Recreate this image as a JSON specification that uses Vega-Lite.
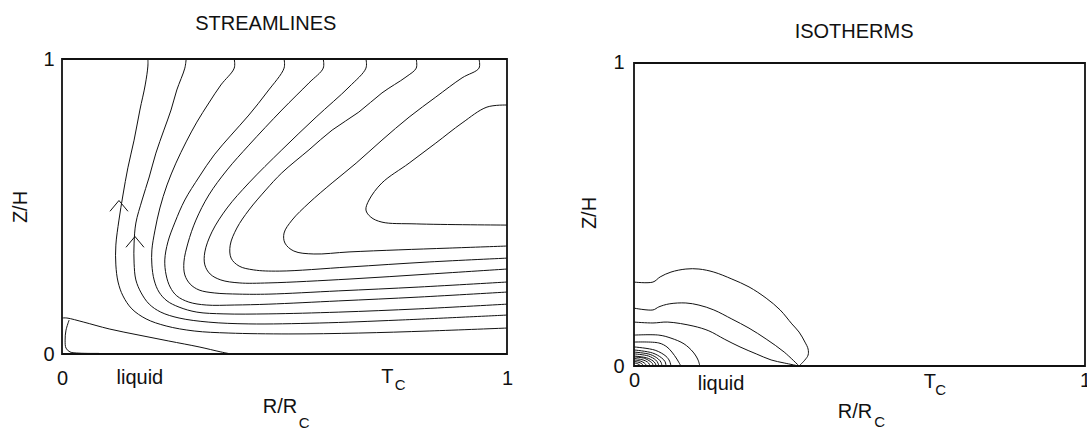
{
  "$schema": "https://vega.github.io/schema/vega-lite/v6.json",
  "background": "white",
  "padding": {"left": 10, "top": 14, "right": 0, "bottom": 0},
  "bounds": "flush",
  "spacing": 127,
  "config": {
    "font": "Liberation Sans",
    "view": {"stroke": null},
    "axis": {"domain": false, "ticks": false, "grid": false, "labelFontSize": 20, "labelColor": "#111", "titleFontSize": 20, "titleFontWeight": "normal", "titleColor": "#111", "labelFlush": false}
  },
  "datasets": {
    "frame": [{"x": 0, "x2": 1, "y": 0, "y2": 1}],
    "stream": [
      {"c": "A", "x": 0.193, "y": 1.0}, {"c": "A", "x": 0.193, "y": 0.976}, {"c": "A", "x": 0.187, "y": 0.912}, {"c": "A", "x": 0.175, "y": 0.827}, {"c": "A", "x": 0.162, "y": 0.725}, {"c": "A", "x": 0.148, "y": 0.631}, {"c": "A", "x": 0.137, "y": 0.539}, {"c": "A", "x": 0.128, "y": 0.454}, {"c": "A", "x": 0.121, "y": 0.369}, {"c": "A", "x": 0.121, "y": 0.302}, {"c": "A", "x": 0.126, "y": 0.244}, {"c": "A", "x": 0.137, "y": 0.197}, {"c": "A", "x": 0.157, "y": 0.153}, {"c": "A", "x": 0.189, "y": 0.119}, {"c": "A", "x": 0.234, "y": 0.095}, {"c": "A", "x": 0.297, "y": 0.078}, {"c": "A", "x": 0.375, "y": 0.071}, {"c": "A", "x": 0.510, "y": 0.068}, {"c": "A", "x": 0.667, "y": 0.071}, {"c": "A", "x": 0.825, "y": 0.078}, {"c": "A", "x": 1.0, "y": 0.088},
      {"c": "B", "x": 0.279, "y": 1.0}, {"c": "B", "x": 0.276, "y": 0.969}, {"c": "B", "x": 0.258, "y": 0.895}, {"c": "B", "x": 0.245, "y": 0.827}, {"c": "B", "x": 0.229, "y": 0.759}, {"c": "B", "x": 0.211, "y": 0.681}, {"c": "B", "x": 0.196, "y": 0.600}, {"c": "B", "x": 0.180, "y": 0.522}, {"c": "B", "x": 0.166, "y": 0.444}, {"c": "B", "x": 0.162, "y": 0.376}, {"c": "B", "x": 0.162, "y": 0.308}, {"c": "B", "x": 0.166, "y": 0.251}, {"c": "B", "x": 0.178, "y": 0.207}, {"c": "B", "x": 0.196, "y": 0.169}, {"c": "B", "x": 0.222, "y": 0.142}, {"c": "B", "x": 0.263, "y": 0.122}, {"c": "B", "x": 0.330, "y": 0.108}, {"c": "B", "x": 0.420, "y": 0.102}, {"c": "B", "x": 0.578, "y": 0.105}, {"c": "B", "x": 0.757, "y": 0.115}, {"c": "B", "x": 1.0, "y": 0.132},
      {"c": "C", "x": 0.387, "y": 1.0}, {"c": "C", "x": 0.387, "y": 0.969}, {"c": "C", "x": 0.357, "y": 0.912}, {"c": "C", "x": 0.330, "y": 0.851}, {"c": "C", "x": 0.303, "y": 0.786}, {"c": "C", "x": 0.279, "y": 0.719}, {"c": "C", "x": 0.256, "y": 0.647}, {"c": "C", "x": 0.236, "y": 0.573}, {"c": "C", "x": 0.220, "y": 0.495}, {"c": "C", "x": 0.209, "y": 0.420}, {"c": "C", "x": 0.202, "y": 0.353}, {"c": "C", "x": 0.202, "y": 0.302}, {"c": "C", "x": 0.207, "y": 0.251}, {"c": "C", "x": 0.218, "y": 0.210}, {"c": "C", "x": 0.236, "y": 0.180}, {"c": "C", "x": 0.263, "y": 0.159}, {"c": "C", "x": 0.303, "y": 0.142}, {"c": "C", "x": 0.364, "y": 0.136}, {"c": "C", "x": 0.465, "y": 0.136}, {"c": "C", "x": 0.622, "y": 0.142}, {"c": "C", "x": 0.802, "y": 0.153}, {"c": "C", "x": 1.0, "y": 0.169},
      {"c": "D", "x": 0.499, "y": 1.0}, {"c": "D", "x": 0.499, "y": 0.969}, {"c": "D", "x": 0.461, "y": 0.888}, {"c": "D", "x": 0.420, "y": 0.810}, {"c": "D", "x": 0.380, "y": 0.742}, {"c": "D", "x": 0.342, "y": 0.675}, {"c": "D", "x": 0.308, "y": 0.600}, {"c": "D", "x": 0.276, "y": 0.522}, {"c": "D", "x": 0.254, "y": 0.447}, {"c": "D", "x": 0.238, "y": 0.380}, {"c": "D", "x": 0.231, "y": 0.319}, {"c": "D", "x": 0.234, "y": 0.268}, {"c": "D", "x": 0.243, "y": 0.227}, {"c": "D", "x": 0.258, "y": 0.197}, {"c": "D", "x": 0.285, "y": 0.176}, {"c": "D", "x": 0.324, "y": 0.166}, {"c": "D", "x": 0.387, "y": 0.166}, {"c": "D", "x": 0.465, "y": 0.169}, {"c": "D", "x": 0.622, "y": 0.180}, {"c": "D", "x": 0.802, "y": 0.193}, {"c": "D", "x": 1.0, "y": 0.210},
      {"c": "E", "x": 0.587, "y": 1.0}, {"c": "E", "x": 0.587, "y": 0.969}, {"c": "E", "x": 0.555, "y": 0.919}, {"c": "E", "x": 0.494, "y": 0.827}, {"c": "E", "x": 0.420, "y": 0.708}, {"c": "E", "x": 0.371, "y": 0.624}, {"c": "E", "x": 0.330, "y": 0.539}, {"c": "E", "x": 0.301, "y": 0.454}, {"c": "E", "x": 0.283, "y": 0.376}, {"c": "E", "x": 0.274, "y": 0.312}, {"c": "E", "x": 0.276, "y": 0.268}, {"c": "E", "x": 0.288, "y": 0.237}, {"c": "E", "x": 0.308, "y": 0.217}, {"c": "E", "x": 0.342, "y": 0.207}, {"c": "E", "x": 0.398, "y": 0.203}, {"c": "E", "x": 0.465, "y": 0.203}, {"c": "E", "x": 0.622, "y": 0.214}, {"c": "E", "x": 0.802, "y": 0.227}, {"c": "E", "x": 1.0, "y": 0.244},
      {"c": "F", "x": 0.683, "y": 1.0}, {"c": "F", "x": 0.683, "y": 0.969}, {"c": "F", "x": 0.645, "y": 0.905}, {"c": "F", "x": 0.571, "y": 0.803}, {"c": "F", "x": 0.494, "y": 0.692}, {"c": "F", "x": 0.420, "y": 0.580}, {"c": "F", "x": 0.371, "y": 0.495}, {"c": "F", "x": 0.337, "y": 0.414}, {"c": "F", "x": 0.321, "y": 0.346}, {"c": "F", "x": 0.321, "y": 0.302}, {"c": "F", "x": 0.333, "y": 0.271}, {"c": "F", "x": 0.357, "y": 0.251}, {"c": "F", "x": 0.398, "y": 0.241}, {"c": "F", "x": 0.465, "y": 0.241}, {"c": "F", "x": 0.645, "y": 0.254}, {"c": "F", "x": 0.825, "y": 0.271}, {"c": "F", "x": 1.0, "y": 0.288},
      {"c": "G", "x": 0.796, "y": 1.0}, {"c": "G", "x": 0.796, "y": 0.969}, {"c": "G", "x": 0.773, "y": 0.939}, {"c": "G", "x": 0.719, "y": 0.885}, {"c": "G", "x": 0.667, "y": 0.820}, {"c": "G", "x": 0.607, "y": 0.759}, {"c": "G", "x": 0.555, "y": 0.692}, {"c": "G", "x": 0.494, "y": 0.614}, {"c": "G", "x": 0.458, "y": 0.556}, {"c": "G", "x": 0.420, "y": 0.488}, {"c": "G", "x": 0.393, "y": 0.427}, {"c": "G", "x": 0.378, "y": 0.369}, {"c": "G", "x": 0.380, "y": 0.325}, {"c": "G", "x": 0.398, "y": 0.298}, {"c": "G", "x": 0.431, "y": 0.285}, {"c": "G", "x": 0.488, "y": 0.281}, {"c": "G", "x": 0.645, "y": 0.295}, {"c": "G", "x": 0.825, "y": 0.312}, {"c": "G", "x": 1.0, "y": 0.325},
      {"c": "H", "x": 0.937, "y": 1.0}, {"c": "H", "x": 0.937, "y": 0.969}, {"c": "H", "x": 0.899, "y": 0.936}, {"c": "H", "x": 0.840, "y": 0.871}, {"c": "H", "x": 0.780, "y": 0.803}, {"c": "H", "x": 0.719, "y": 0.725}, {"c": "H", "x": 0.661, "y": 0.647}, {"c": "H", "x": 0.607, "y": 0.580}, {"c": "H", "x": 0.555, "y": 0.512}, {"c": "H", "x": 0.517, "y": 0.454}, {"c": "H", "x": 0.499, "y": 0.410}, {"c": "H", "x": 0.501, "y": 0.376}, {"c": "H", "x": 0.521, "y": 0.349}, {"c": "H", "x": 0.566, "y": 0.339}, {"c": "H", "x": 0.645, "y": 0.346}, {"c": "H", "x": 0.757, "y": 0.353}, {"c": "H", "x": 0.870, "y": 0.359}, {"c": "H", "x": 1.0, "y": 0.366},
      {"c": "I", "x": 1.0, "y": 0.844}, {"c": "I", "x": 0.955, "y": 0.837}, {"c": "I", "x": 0.899, "y": 0.783}, {"c": "I", "x": 0.840, "y": 0.715}, {"c": "I", "x": 0.780, "y": 0.647}, {"c": "I", "x": 0.719, "y": 0.580}, {"c": "I", "x": 0.690, "y": 0.522}, {"c": "I", "x": 0.683, "y": 0.488}, {"c": "I", "x": 0.694, "y": 0.464}, {"c": "I", "x": 0.719, "y": 0.447}, {"c": "I", "x": 0.796, "y": 0.441}, {"c": "I", "x": 1.0, "y": 0.437},
      {"c": "S1", "x": 0, "y": 0.122}, {"c": "S1", "x": 0.011, "y": 0.122}, {"c": "S1", "x": 0.049, "y": 0.108}, {"c": "S1", "x": 0.106, "y": 0.085}, {"c": "S1", "x": 0.173, "y": 0.064}, {"c": "S1", "x": 0.240, "y": 0.044}, {"c": "S1", "x": 0.308, "y": 0.024}, {"c": "S1", "x": 0.357, "y": 0.007}, {"c": "S1", "x": 0.380, "y": 0},
      {"c": "S2", "x": 0.016, "y": 0.115}, {"c": "S2", "x": 0.009, "y": 0.081}, {"c": "S2", "x": 0.007, "y": 0.047}, {"c": "S2", "x": 0.009, "y": 0.020}, {"c": "S2", "x": 0.018, "y": 0.007}, {"c": "S2", "x": 0.038, "y": 0.003}, {"c": "S2", "x": 0.083, "y": 0.002}
    ],
    "arrows": [{"x": 0.128, "y": 0.502}, {"x": 0.164, "y": 0.380}],
    "iso": [
      {"c": "T1", "x": 0, "y": 0.277}, {"c": "T1", "x": 0.042, "y": 0.277}, {"c": "T1", "x": 0.058, "y": 0.294}, {"c": "T1", "x": 0.082, "y": 0.310}, {"c": "T1", "x": 0.115, "y": 0.320}, {"c": "T1", "x": 0.144, "y": 0.320}, {"c": "T1", "x": 0.177, "y": 0.310}, {"c": "T1", "x": 0.217, "y": 0.287}, {"c": "T1", "x": 0.255, "y": 0.261}, {"c": "T1", "x": 0.293, "y": 0.224}, {"c": "T1", "x": 0.324, "y": 0.185}, {"c": "T1", "x": 0.350, "y": 0.139}, {"c": "T1", "x": 0.366, "y": 0.112}, {"c": "T1", "x": 0.379, "y": 0.079}, {"c": "T1", "x": 0.386, "y": 0.056}, {"c": "T1", "x": 0.386, "y": 0.036}, {"c": "T1", "x": 0.379, "y": 0.020}, {"c": "T1", "x": 0.366, "y": 0},
      {"c": "T2", "x": 0, "y": 0.191}, {"c": "T2", "x": 0.042, "y": 0.185}, {"c": "T2", "x": 0.055, "y": 0.195}, {"c": "T2", "x": 0.078, "y": 0.205}, {"c": "T2", "x": 0.115, "y": 0.208}, {"c": "T2", "x": 0.144, "y": 0.201}, {"c": "T2", "x": 0.177, "y": 0.185}, {"c": "T2", "x": 0.217, "y": 0.155}, {"c": "T2", "x": 0.255, "y": 0.125}, {"c": "T2", "x": 0.293, "y": 0.089}, {"c": "T2", "x": 0.333, "y": 0.046}, {"c": "T2", "x": 0.366, "y": 0},
      {"c": "T3", "x": 0, "y": 0.145}, {"c": "T3", "x": 0.042, "y": 0.142}, {"c": "T3", "x": 0.075, "y": 0.145}, {"c": "T3", "x": 0.131, "y": 0.132}, {"c": "T3", "x": 0.166, "y": 0.116}, {"c": "T3", "x": 0.200, "y": 0.089}, {"c": "T3", "x": 0.235, "y": 0.063}, {"c": "T3", "x": 0.271, "y": 0.040}, {"c": "T3", "x": 0.304, "y": 0.020}, {"c": "T3", "x": 0.333, "y": 0.010}, {"c": "T3", "x": 0.366, "y": 0},
      {"c": "T4", "x": 0, "y": 0.102}, {"c": "T4", "x": 0.055, "y": 0.102}, {"c": "T4", "x": 0.082, "y": 0.092}, {"c": "T4", "x": 0.111, "y": 0.073}, {"c": "T4", "x": 0.131, "y": 0.046}, {"c": "T4", "x": 0.142, "y": 0.020}, {"c": "T4", "x": 0.146, "y": 0},
      {"c": "T5", "x": 0, "y": 0.079}, {"c": "T5", "x": 0.055, "y": 0.076}, {"c": "T5", "x": 0.073, "y": 0.063}, {"c": "T5", "x": 0.084, "y": 0.046}, {"c": "T5", "x": 0.095, "y": 0.023}, {"c": "T5", "x": 0.104, "y": 0},
      {"c": "T6", "x": 0, "y": 0.063}, {"c": "T6", "x": 0.047, "y": 0.052}, {"c": "T6", "x": 0.071, "y": 0.032}, {"c": "T6", "x": 0.079, "y": 0.016}, {"c": "T6", "x": 0.082, "y": 0},
      {"c": "T7", "x": 0, "y": 0.053}, {"c": "T7", "x": 0.041, "y": 0.043}, {"c": "T7", "x": 0.061, "y": 0.027}, {"c": "T7", "x": 0.069, "y": 0.014}, {"c": "T7", "x": 0.071, "y": 0},
      {"c": "T8", "x": 0, "y": 0.046}, {"c": "T8", "x": 0.036, "y": 0.038}, {"c": "T8", "x": 0.054, "y": 0.023}, {"c": "T8", "x": 0.060, "y": 0.012}, {"c": "T8", "x": 0.062, "y": 0},
      {"c": "T9", "x": 0, "y": 0.040}, {"c": "T9", "x": 0.032, "y": 0.033}, {"c": "T9", "x": 0.048, "y": 0.020}, {"c": "T9", "x": 0.053, "y": 0.010}, {"c": "T9", "x": 0.055, "y": 0},
      {"c": "T10", "x": 0, "y": 0.033}, {"c": "T10", "x": 0.028, "y": 0.027}, {"c": "T10", "x": 0.042, "y": 0.017}, {"c": "T10", "x": 0.047, "y": 0.009}, {"c": "T10", "x": 0.049, "y": 0},
      {"c": "T11", "x": 0, "y": 0.030}, {"c": "T11", "x": 0.024, "y": 0.025}, {"c": "T11", "x": 0.036, "y": 0.015}, {"c": "T11", "x": 0.041, "y": 0.008}, {"c": "T11", "x": 0.042, "y": 0},
      {"c": "T12", "x": 0, "y": 0.025}, {"c": "T12", "x": 0.020, "y": 0.020}, {"c": "T12", "x": 0.030, "y": 0.013}, {"c": "T12", "x": 0.034, "y": 0.006}, {"c": "T12", "x": 0.035, "y": 0},
      {"c": "T13", "x": 0, "y": 0.020}, {"c": "T13", "x": 0.015, "y": 0.016}, {"c": "T13", "x": 0.023, "y": 0.010}, {"c": "T13", "x": 0.026, "y": 0.005}, {"c": "T13", "x": 0.027, "y": 0},
      {"c": "T14", "x": 0, "y": 0.015}, {"c": "T14", "x": 0.011, "y": 0.012}, {"c": "T14", "x": 0.017, "y": 0.008}, {"c": "T14", "x": 0.019, "y": 0.004}, {"c": "T14", "x": 0.020, "y": 0},
      {"c": "T15", "x": 0, "y": 0.010}, {"c": "T15", "x": 0.007, "y": 0.008}, {"c": "T15", "x": 0.011, "y": 0.005}, {"c": "T15", "x": 0.013, "y": 0.003}, {"c": "T15", "x": 0.013, "y": 0}
    ],
    "streamLabels": [
      {"t": "STREAMLINES", "x": 0.458, "y": 1.098},
      {"t": "liquid", "x": 0.175, "y": -0.102},
      {"t": "T", "x": 0.731, "y": -0.098},
      {"t": "R/R", "x": 0.490, "y": -0.200}
    ],
    "streamSubs": [
      {"t": "C", "x": 0.760, "y": -0.122},
      {"t": "C", "x": 0.544, "y": -0.251}
    ],
    "isoLabels": [
      {"t": "ISOTHERMS", "x": 0.488, "y": 1.082},
      {"t": "liquid", "x": 0.193, "y": -0.079},
      {"t": "T", "x": 0.656, "y": -0.073},
      {"t": "R/R", "x": 0.490, "y": -0.172}
    ],
    "isoSubs": [
      {"t": "C", "x": 0.680, "y": -0.096},
      {"t": "C", "x": 0.545, "y": -0.201}
    ]
  },
  "hconcat": [
    {
      "width": 445,
      "height": 295,
      "encoding": {
        "x": {"field": "x", "type": "quantitative", "scale": {"domain": [0, 1], "nice": false, "zero": false}, "axis": {"values": [0, 1], "title": null, "labelPadding": 14, "format": "d"}},
        "y": {"field": "y", "type": "quantitative", "scale": {"domain": [0, 1], "nice": false, "zero": false}, "axis": {"values": [0, 1], "title": "Z/H", "labelPadding": 8, "titlePadding": 12, "format": "d"}}
      },
      "layer": [
        {"data": {"name": "frame"}, "mark": {"type": "rect", "filled": false, "stroke": "#111", "strokeWidth": 1.8}, "encoding": {"x2": {"field": "x2"}, "y2": {"field": "y2"}}},
        {"data": {"name": "stream"}, "mark": {"type": "line", "stroke": "#111", "strokeWidth": 1, "interpolate": "catmull-rom"}, "encoding": {"detail": {"field": "c"}, "order": {"value": null}}},
        {"data": {"name": "arrows"}, "mark": {"type": "point", "shape": "M-1,0.6L0,-0.6L1,0.6", "size": 324, "filled": false, "stroke": "#111", "strokeWidth": 1, "opacity": 1}},
        {"data": {"name": "streamLabels"}, "mark": {"type": "text", "fontSize": 20, "align": "center", "baseline": "alphabetic", "color": "#111"}, "encoding": {"text": {"field": "t"}}},
        {"data": {"name": "streamSubs"}, "mark": {"type": "text", "fontSize": 15, "align": "center", "baseline": "alphabetic", "color": "#111"}, "encoding": {"text": {"field": "t"}}}
      ]
    },
    {
      "width": 451,
      "height": 307,
      "encoding": {
        "x": {"field": "x", "type": "quantitative", "scale": {"domain": [0, 1], "nice": false, "zero": false}, "axis": {"values": [0, 1], "title": null, "labelPadding": 4, "format": "d"}},
        "y": {"field": "y", "type": "quantitative", "scale": {"domain": [0, 1.0132], "nice": false, "zero": false}, "axis": {"values": [0, 1], "title": "Z/H", "labelPadding": 10, "titlePadding": 13, "format": "d"}}
      },
      "layer": [
        {"data": {"name": "frame"}, "mark": {"type": "rect", "filled": false, "stroke": "#111", "strokeWidth": 1.8}, "encoding": {"x2": {"field": "x2"}, "y2": {"field": "y2"}}},
        {"data": {"name": "iso"}, "mark": {"type": "line", "stroke": "#111", "strokeWidth": 1, "interpolate": "catmull-rom"}, "encoding": {"detail": {"field": "c"}, "order": {"value": null}}},
        {"data": {"name": "isoLabels"}, "mark": {"type": "text", "fontSize": 20, "align": "center", "baseline": "alphabetic", "color": "#111"}, "encoding": {"text": {"field": "t"}}},
        {"data": {"name": "isoSubs"}, "mark": {"type": "text", "fontSize": 15, "align": "center", "baseline": "alphabetic", "color": "#111"}, "encoding": {"text": {"field": "t"}}}
      ]
    }
  ]
}
